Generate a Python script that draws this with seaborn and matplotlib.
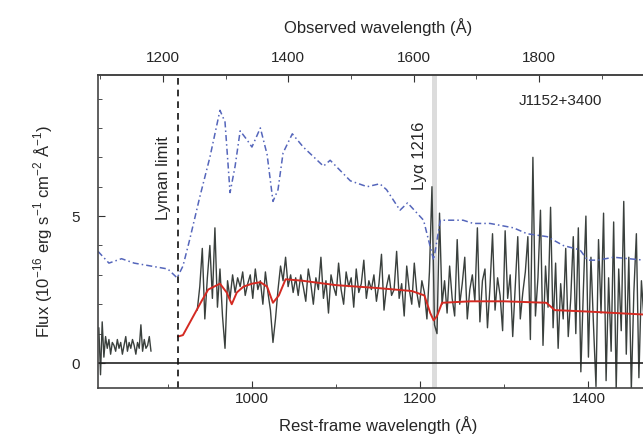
import numpy as np
import pandas as pd
import matplotlib
matplotlib.use("Agg")
import matplotlib.pyplot as plt
import seaborn as sns

z = 0.3419

# observed spectrum, short blue piece
wl_a = np.arange(818, 882, 2)
flux_a = [1.2, -0.4, 1.4, 0.2, 0.9, 0.5, 0.8, 0.3, 0.7, 0.6, 0.4, 0.8, 0.5, 0.7, 0.3, 0.6,
          0.9, 0.4, 0.7, 0.5, 0.8, 0.6, 0.3, 0.7, 0.5, 1.3, 0.4, 0.8, 0.5, 0.6, 0.9, 0.4]

# observed spectrum, main piece
wl_b = np.arange(935, 1467, 3)
flux_b = [1.8, 2.6, 3.9, 1.5, 2.9, 4.0, 2.2, 4.6, 1.9, 3.2,
          1.6, 0.5, 2.8, 2.2, 3.0, 2.4, 2.9, 2.6, 3.1, 2.3,
          2.7, 3.0, 2.2, 3.2, 2.5, 2.8, 2.0, 3.1, 2.4, 1.8,
          0.7, 1.5, 2.5, 3.3, 2.8, 3.6, 2.6, 3.0, 2.4, 2.9,
          2.3, 3.0, 2.6, 2.1, 3.2, 2.7, 2.0, 2.9, 2.5, 3.6,
          2.2, 2.8, 1.7, 3.0, 2.6, 2.3, 3.4, 2.5, 2.0, 3.1,
          2.6, 2.9, 1.9, 3.2, 2.4, 2.7, 3.5, 2.2, 2.8, 2.5,
          3.0, 2.1, 2.7, 3.7, 1.8, 2.6, 3.0, 2.3, 2.5, 3.8,
          2.2, 2.7, 1.6, 3.3, 2.5, 2.0, 3.4, 2.4, 1.9, 2.8,
          2.4, 1.5, 3.1, 6.0, 1.3, 1.0, 5.1, 2.0, 2.8, 1.7,
          3.3, 2.2, 1.6, 4.2, 2.0, 2.7, 3.6, 1.5, 2.5, 3.0,
          2.1, 4.6, 1.4, 2.8, 3.2, 1.2, 2.6, 4.4, 1.8, 2.9,
          2.3, 1.1, 4.5, 2.2, 3.0, 0.9, 2.6, 4.3, 1.5, 2.4,
          3.1, 4.3, 0.8, 7.0, 1.6, 2.9, 5.2, 0.6, 3.3, 1.9,
          5.3, 1.2, 3.4, 0.5, 2.7, 1.5, 3.9, 0.9, 2.2, 4.3,
          1.0, 4.6, -0.3, 2.5, 5.0, 0.2, 3.6, 1.3, -0.8, 4.2,
          1.7, 5.1, -0.6, 2.9, 0.4, 4.8, -0.9, 3.2, 1.1, 5.5,
          0.3, 3.6, -0.9, 2.4, 4.4, -0.5, 2.8, 1.5]

# attenuated model SED (red)
red_wl = [912, 918, 940, 948, 955, 962, 970, 976, 982, 990, 1000, 1010, 1018, 1025, 1032,
          1040, 1060, 1100, 1150, 1190, 1205, 1212, 1216, 1220, 1226, 1260, 1300, 1350,
          1360, 1400, 1466]
red_fl = [0.9, 0.95, 2.1, 2.5, 2.6, 2.7, 2.4, 2.0, 2.4, 2.6, 2.7, 2.75, 2.6, 2.05, 2.3,
          2.85, 2.8, 2.65, 2.55, 2.45, 2.3, 1.7, 1.45, 1.6, 2.05, 2.1, 2.1, 2.05,
          1.8, 1.75, 1.65]

# intrinsic SED (blue dash-dot)
blue_wl = [817, 830, 845, 860, 880, 900, 911, 918, 926, 938, 950, 962, 968, 974, 980, 986,
           994, 1000, 1010, 1018, 1025, 1031, 1037, 1048, 1061, 1085, 1093, 1117, 1137,
           1152, 1160, 1176, 1185, 1204, 1212, 1216, 1224, 1251, 1263, 1283, 1311, 1327,
           1351, 1370, 1390, 1399, 1411, 1430, 1466]
blue_fl = [3.8, 3.4, 3.55, 3.4, 3.3, 3.2, 2.9, 3.3, 4.2, 5.65, 7.0, 8.6, 8.2, 5.8, 6.7, 7.9,
           7.6, 7.35, 8.0, 7.1, 5.5, 5.9, 7.15, 7.8, 7.35, 6.7, 6.9, 6.2, 6.0,
           6.1, 5.9, 5.2, 5.45, 4.86, 3.95, 3.5, 4.86, 4.86, 4.75, 4.75, 4.6, 4.4,
           4.3, 4.0, 3.85, 3.5, 3.5, 3.6, 3.5]

spec_a = pd.DataFrame({"wl": wl_a, "flux": flux_a})
spec_b = pd.DataFrame({"wl": wl_b, "flux": flux_b})
red = pd.DataFrame({"wl": red_wl, "flux": red_fl})
blue = pd.DataFrame({"wl": blue_wl, "flux": blue_fl})

sns.set_style("ticks")
plt.rcParams["font.family"] = ["Liberation Sans", "DejaVu Sans"]
plt.rcParams["mathtext.fontset"] = "custom"
plt.rcParams["mathtext.rm"] = "Liberation Sans"

fig = plt.figure(figsize=(6.43, 4.42), dpi=100)
ax = fig.add_axes([0.1524, 0.1222, 0.87, 0.708])

ax.axvspan(1214.5, 1219.5, color="#dcdcdc", lw=0, zorder=0)

sns.lineplot(data=spec_a, x="wl", y="flux", ax=ax, color="#3a403d", lw=1.0,
             estimator=None, sort=False)
sns.lineplot(data=spec_b, x="wl", y="flux", ax=ax, color="#3a403d", lw=1.0,
             estimator=None, sort=False)
sns.lineplot(data=red, x="wl", y="flux", ax=ax, color="#d42a22", lw=1.4,
             estimator=None, sort=False)
sns.lineplot(data=blue, x="wl", y="flux", ax=ax, color="#5566bb", lw=1.1,
             linestyle=(0, (4, 2, 1, 2)), estimator=None, sort=False)

ax.axhline(0, color="#222222", lw=1.2)
ax.axvline(912, color="#111111", lw=1.2, ls=(0, (4, 3)))

ax.set_xlim(817, 1482)
ax.set_ylim(-0.85, 9.8)
ax.set_xticks([1000, 1200, 1400])
ax.set_xticks(np.arange(900, 1500, 100), minor=True)
ax.set_yticks([0, 5])
ax.set_yticks(np.arange(0, 10, 1), minor=True)
ax.tick_params(which="both", direction="in", labelsize=11, color="#333333")
ax.tick_params(which="major", length=5)
ax.tick_params(which="minor", length=3)
ax.tick_params(axis="x", pad=3)
ax.tick_params(axis="y", pad=13)
for s in ax.spines.values():
    s.set_linewidth(1.2)
    s.set_color("#444444")
ax.spines["right"].set_visible(False)

ax.set_xlabel("Rest-frame wavelength (Å)", fontsize=12, labelpad=7)
ax.set_ylabel("Flux (10$^{-16}$ erg s$^{-1}$ cm$^{-2}$ Å$^{-1}$)", fontsize=12, labelpad=12)

top = ax.secondary_xaxis("top", functions=(lambda x: x * (1 + z), lambda x: x / (1 + z)))
top.set_xticks([1200, 1400, 1600, 1800])
top.set_xticks(np.arange(1100, 2000, 100), minor=True)
top.tick_params(which="both", direction="in", labelsize=11, color="#333333", pad=7)
top.tick_params(which="major", length=5)
top.tick_params(which="minor", length=3)
top.spines["top"].set_linewidth(1.2)
top.spines["top"].set_color("#444444")
top.set_xlabel("Observed wavelength (Å)", fontsize=12, labelpad=13)

ax.text(895, 4.86, "Lyman limit", rotation=90, ha="center", va="bottom", fontsize=12)
ax.text(1199, 5.9, "Lyα 1216", rotation=90, ha="center", va="bottom", fontsize=12)
ax.text(1367, 8.9, "J1152+3400", ha="center", va="center", fontsize=11)

fig.savefig("out.png", dpi=100)
